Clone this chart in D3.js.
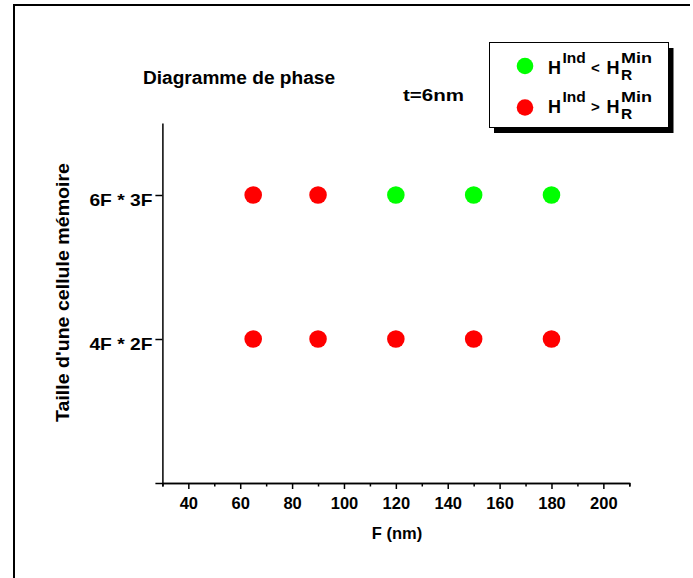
<!DOCTYPE html>
<html>
<head>
<meta charset="utf-8">
<script src="https://cdn.jsdelivr.net/npm/d3@7"></script>
<style>
  body { margin: 0; background: #fff; }
  svg { display: block; font-family: "Liberation Sans", Arial, Helvetica, sans-serif; font-weight: bold; }
</style>
</head>
<body>
<svg id="chart" width="693" height="578"></svg>
<script>
// ---- data ----
const fValues = [65, 90, 120, 150, 180];
const cellSizes = ["4F * 2F", "6F * 3F"];
const cellPositions = [1, 2];
// "lt": H^Ind < H_R^Min (green), "gt": H^Ind > H_R^Min (red)
const state4F2F = ["gt", "gt", "gt", "gt", "gt"];
const state6F3F = ["gt", "gt", "lt", "lt", "lt"];
const xMajorTicks = [40, 60, 80, 100, 120, 140, 160, 180, 200];
const xMinorTicks = [30, 50, 70, 90, 110, 130, 150, 170, 190, 210];
const xDomain = [30, 210];
const yDomain = [0, 2.5];
const titleText = "Diagramme de phase";
const subtitleText = "t=6nm";
const xLabel = "F (nm)";
const yLabel = "Taille d'une cellule mémoire";

const colors = { lt: "#00ff00", gt: "#ff0000" };

const svg = d3.select("#chart");

// outer page frame (left & top edges)
svg.append("path")
  .attr("d", "M14,578 L14,5 L690,5")
  .attr("fill", "none").attr("stroke", "#000").attr("stroke-width", 2);

const x = d3.scaleLinear().domain(xDomain).range([162.4, 629.3]);
const y = d3.scaleLinear().domain(yDomain).range([483, 123]);

// x axis: minor ticks
const gxMinor = svg.append("g").attr("transform", `translate(0,${y(0)})`)
  .call(d3.axisBottom(x).tickValues(xMinorTicks).tickSize(3.5).tickFormat(""));
// x axis: major ticks
const gx = svg.append("g").attr("transform", `translate(0,${y(0)})`)
  .call(d3.axisBottom(x).tickValues(xMajorTicks).tickSize(6).tickSizeOuter(0).tickPadding(8));
[gxMinor, gx].forEach(g => {
  g.select(".domain").attr("stroke", "#000").attr("stroke-width", 1.5);
  g.selectAll(".tick line").attr("stroke", "#000").attr("stroke-width", 1.5);
});
gx.selectAll(".tick text")
  .attr("font-size", 16.5).attr("font-weight", "bold").attr("fill", "#000")
  .attr("font-family", "Liberation Sans, Arial, sans-serif")
  .attr("dy", null).attr("y", 25.5);

// y axis
const yTickVals = [0].concat(cellPositions);
const gy = svg.append("g").attr("transform", `translate(${x(xDomain[0])},0)`)
  .call(d3.axisLeft(y).tickValues(yTickVals).tickSize(7).tickSizeOuter(0)
    .tickFormat(v => { const i = cellPositions.indexOf(v); return i >= 0 ? cellSizes[i] : ""; }));
gy.select(".domain").attr("stroke", "#000").attr("stroke-width", 1.5);
gy.selectAll(".tick line").attr("stroke", "#000").attr("stroke-width", 1.5);
gy.selectAll(".tick text")
  .attr("font-size", 16.5).attr("font-weight", "bold").attr("fill", "#000")
  .attr("font-family", "Liberation Sans, Arial, sans-serif")
  .attr("x", -10).attr("dy", null).attr("y", 10)
  .attr("textLength", 63).attr("lengthAdjust", "spacingAndGlyphs");

// points
const rows = [
  { pos: cellPositions[0], states: state4F2F },
  { pos: cellPositions[1], states: state6F3F }
];
const pts = [];
rows.forEach(r => fValues.forEach((f, i) => pts.push({ f, pos: r.pos, s: r.states[i] })));
svg.append("g").selectAll("circle").data(pts).join("circle")
  .attr("cx", d => x(d.f)).attr("cy", d => y(d.pos)).attr("r", 8.8)
  .attr("fill", d => colors[d.s]);

// titles
svg.append("text").attr("x", 143).attr("y", 83.5).attr("font-size", 17.5)
  .attr("textLength", 192).attr("lengthAdjust", "spacingAndGlyphs").text(titleText);
svg.append("text").attr("x", 403).attr("y", 100.7).attr("font-size", 16.5)
  .attr("textLength", 61).attr("lengthAdjust", "spacingAndGlyphs").text(subtitleText);

// axis labels
svg.append("text").attr("x", 397).attr("y", 539.3).attr("font-size", 16.5)
  .attr("text-anchor", "middle").text(xLabel);
svg.append("text").attr("transform", "translate(68.5,292.5) rotate(-90)")
  .attr("font-size", 19).attr("text-anchor", "middle")
  .attr("textLength", 259).attr("lengthAdjust", "spacingAndGlyphs").text(yLabel);

// legend
const lg = svg.append("g");
lg.append("rect").attr("x", 494).attr("y", 48).attr("width", 179.5).attr("height", 85).attr("fill", "#000");
lg.append("rect").attr("x", 489.5).attr("y", 42.5).attr("width", 179).attr("height", 85)
  .attr("fill", "#fff").attr("stroke", "#000").attr("stroke-width", 1);
const legendItems = [
  { s: "lt", op: "<", cy: 66, base: 74 },
  { s: "gt", op: ">", cy: 107.5, base: 113 }
];
legendItems.forEach(it => {
  lg.append("circle").attr("cx", 525).attr("cy", it.cy).attr("r", 8.3).attr("fill", colors[it.s]);
  lg.append("text").attr("x", 548).attr("y", it.base).attr("font-size", 18).text("H");
  lg.append("text").attr("x", 562.5).attr("y", it.base - 11.5).attr("font-size", 15.5).text("Ind");
  lg.append("text").attr("x", 591).attr("y", it.base - 1).attr("font-size", 15).text(it.op);
  lg.append("text").attr("x", 606.5).attr("y", it.base).attr("font-size", 18).text("H");
  lg.append("text").attr("x", 621).attr("y", it.base - 11.5).attr("font-size", 15)
    .attr("textLength", 31).attr("lengthAdjust", "spacingAndGlyphs").text("Min");
  lg.append("text").attr("x", 621).attr("y", it.base + 5.5).attr("font-size", 15.5).text("R");
});
</script>
</body>
</html>
